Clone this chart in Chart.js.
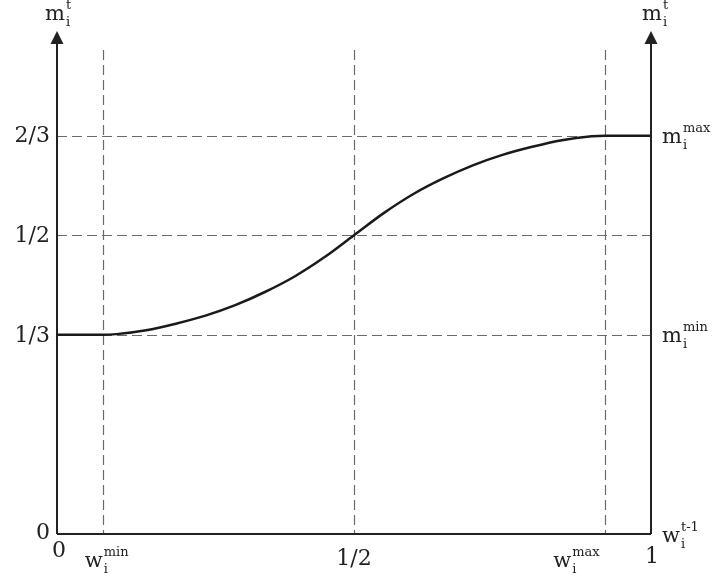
<!DOCTYPE html>
<html>
<head>
<meta charset="utf-8">
<script src="https://cdn.jsdelivr.net/npm/chart.js@4.4.1/dist/chart.umd.min.js"></script>
<style>
  html, body { margin: 0; padding: 0; background: #ffffff; }
  #wrap { width: 712px; height: 580px; position: relative; }
</style>
</head>
<body>
<div id="wrap"><canvas id="c" width="712" height="580"></canvas></div>
<script>
// ---- data ----
const wMin = 0.077;
const wMax = 0.923;
const curveX = [0, 0.077, 0.1, 0.15, 0.2, 0.25, 0.3, 0.35, 0.4, 0.45, 0.5, 0.55, 0.6, 0.65, 0.7, 0.75, 0.8, 0.85, 0.9, 0.923, 1];
const curveY = [0.3333, 0.3333, 0.3345, 0.341, 0.352, 0.3655, 0.383, 0.405, 0.431, 0.463, 0.5, 0.537, 0.569, 0.595, 0.617, 0.6345, 0.648, 0.659, 0.6655, 0.6667, 0.6667];
const yTickValues = [0, 1/3, 1/2, 2/3];
const yTickLabels = ['0', '1/3', '1/2', '2/3'];
const xTickValues = [0, 0.5, 1];
const xTickLabels = ['0', '1/2', '1'];
const hLineValues = [1/3, 1/2, 2/3];
const vLineValues = [wMin, 0.5, wMax];

const points = curveX.map((x, i) => ({ x: x, y: curveY[i] }));
const SERIF = '"DejaVu Serif", "Liberation Serif", serif';

function supSub(ctx, base, sub, sup, x, baseY) {
  ctx.textAlign = 'left';
  ctx.textBaseline = 'alphabetic';
  ctx.font = '21px ' + SERIF;
  ctx.fillText(base, x, baseY);
  const w = ctx.measureText(base).width;
  ctx.font = '13px ' + SERIF;
  ctx.fillText(sub, x + w + 1, baseY + 6);
  ctx.fillText(sup, x + w + 1, baseY - 11);
}

const overlay = {
  id: 'overlay',
  beforeDatasetsDraw(chart) {
    const ctx = chart.ctx, xs = chart.scales.x, ys = chart.scales.y, a = chart.chartArea;
    ctx.save();
    ctx.strokeStyle = '#6a6a6a';
    ctx.lineWidth = 1.2;
    ctx.setLineDash([10, 5]);
    hLineValues.forEach(v => {
      const py = Math.round(ys.getPixelForValue(v)) + 0.5;
      ctx.beginPath(); ctx.moveTo(a.left, py); ctx.lineTo(a.right, py); ctx.stroke();
    });
    vLineValues.forEach(v => {
      const px = Math.round(xs.getPixelForValue(v)) + 0.5;
      ctx.beginPath(); ctx.moveTo(px, a.top); ctx.lineTo(px, a.bottom); ctx.stroke();
    });
    ctx.restore();
  },
  afterDraw(chart) {
    const ctx = chart.ctx, xs = chart.scales.x, ys = chart.scales.y, a = chart.chartArea;
    ctx.save();
    ctx.strokeStyle = '#222';
    ctx.fillStyle = '#222';
    ctx.lineWidth = 2;
    const L = xs.getPixelForValue(0), R = xs.getPixelForValue(1), B = ys.getPixelForValue(0);
    const tipY = 31;
    ctx.beginPath();
    ctx.moveTo(L, B); ctx.lineTo(R, B);
    ctx.moveTo(L, B); ctx.lineTo(L, tipY + 8);
    ctx.moveTo(R, B); ctx.lineTo(R, tipY + 8);
    ctx.stroke();
    [L, R].forEach(px => {
      ctx.beginPath();
      ctx.moveTo(px, tipY);
      ctx.lineTo(px - 6.5, tipY + 13);
      ctx.lineTo(px + 6.5, tipY + 13);
      ctx.closePath();
      ctx.fill();
    });
    // left tick labels
    ctx.font = '22px ' + SERIF;
    ctx.textAlign = 'right';
    ctx.textBaseline = 'middle';
    yTickValues.forEach((v, i) => {
      ctx.fillText(yTickLabels[i], L - 7, ys.getPixelForValue(v) + (v === 0 ? -1 : 1));
    });
    // bottom tick labels
    ctx.textAlign = 'center';
    ctx.textBaseline = 'alphabetic';
    const xOff = [2, 0, 1];
    const xBase = [557, 565, 563];
    xTickValues.forEach((v, i) => {
      ctx.fillText(xTickLabels[i], xs.getPixelForValue(v) + xOff[i], xBase[i]);
    });
    // symbolic labels
    supSub(ctx, 'm', 'i', 't', L - 12, 20);
    supSub(ctx, 'm', 'i', 't', R - 9, 20);
    supSub(ctx, 'm', 'i', 'max', R + 11, ys.getPixelForValue(2/3) + 7);
    supSub(ctx, 'm', 'i', 'min', R + 11, ys.getPixelForValue(1/3) + 7);
    supSub(ctx, 'w', 'i', 'min', xs.getPixelForValue(wMin) - 18, 567);
    supSub(ctx, 'w', 'i', 'max', xs.getPixelForValue(wMax) - 52, 567);
    supSub(ctx, 'w', 'i', 't-1', R + 11, 542);
    ctx.restore();
  }
};

new Chart(document.getElementById('c'), {
  type: 'scatter',
  data: {
    datasets: [{
      data: points,
      showLine: true,
      borderColor: '#1a1a1a',
      borderWidth: 2.5,
      pointRadius: 0,
      cubicInterpolationMode: 'monotone',
      fill: false
    }]
  },
  options: {
    responsive: false,
    animation: false,
    devicePixelRatio: 1,
    layout: { padding: { left: 57, right: 61, top: 50, bottom: 46 } },
    plugins: { legend: { display: false }, tooltip: { enabled: false } },
    scales: {
      x: { type: 'linear', min: 0, max: 1, display: false },
      y: { type: 'linear', min: 0, max: 0.81, display: false }
    }
  },
  plugins: [overlay]
});
</script>
</body>
</html>
